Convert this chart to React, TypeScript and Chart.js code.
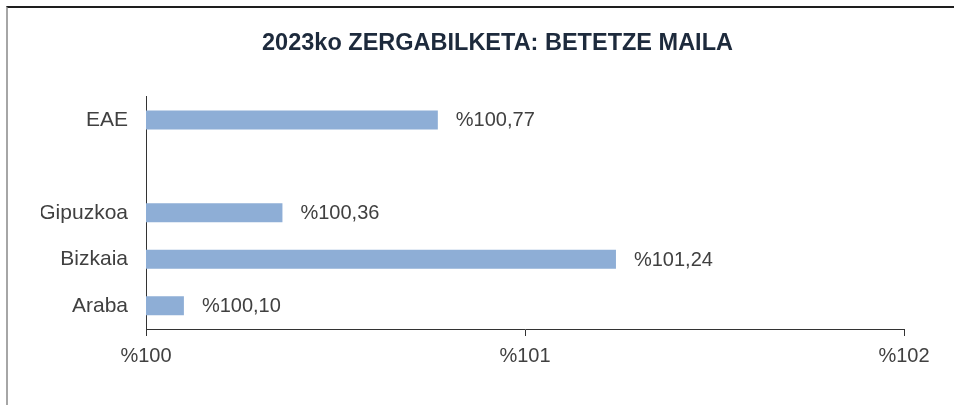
import React, { useEffect, useRef } from "react";
import { Chart, registerables } from "chart.js";

Chart.register(...registerables);

const TITLE = "2023ko ZERGABILKETA: BETETZE MAILA";
const categories = ["EAE", "", "Gipuzkoa", "Bizkaia", "Araba"];
const values: (number | null)[] = [100.77, null, 100.36, 101.24, 100.1];
const valueLabels = ["%100,77", "", "%100,36", "%101,24", "%100,10"];
const xTickValues = [100, 101, 102];
const xTickLabels = ["%100", "%101", "%102"];

const FONT = "'Liberation Sans', Arial, sans-serif";

const valueLabelPlugin = {
  id: "valueLabels",
  afterDatasetsDraw(chart: any) {
    const ctx = chart.ctx;
    const meta = chart.getDatasetMeta(0);
    ctx.save();
    ctx.font = `20px ${FONT}`;
    ctx.fillStyle = "#404040";
    ctx.textAlign = "left";
    ctx.textBaseline = "middle";
    meta.data.forEach((bar: any, i: number) => {
      if (values[i] == null) return;
      ctx.fillText(valueLabels[i], bar.x + 18, bar.y + 1);
    });
    ctx.restore();
  },
};

export default function App() {
  const ref = useRef<HTMLCanvasElement>(null);
  useEffect(() => {
    if (!ref.current) return;
    const chart = new Chart(ref.current, {
      type: "bar",
      data: {
        labels: categories,
        datasets: [
          {
            data: values,
            backgroundColor: "#8eaed6",
            borderWidth: 0,
            categoryPercentage: 1,
            barPercentage: 0.41,
          },
        ],
      },
      options: {
        indexAxis: "y",
        responsive: false,
        animation: false,
        layout: { padding: { left: 33, right: 0, top: 0, bottom: 0 } },
        plugins: {
          legend: { display: false },
          tooltip: { enabled: false },
          title: {
            display: true,
            text: TITLE,
            color: "#1d2a3c",
            font: { family: FONT, size: 23.5, weight: "bold" },
            padding: { top: 21.5, bottom: 39.0 },
          },
        },
        scales: {
          x: {
            type: "linear",
            min: 100,
            max: 102,
            afterBuildTicks: (scale: any) => {
              scale.ticks = xTickValues.map((v) => ({ value: v }));
            },
            afterFit: (scale: any) => {
              scale.height = 76;
              scale.paddingRight = 50;
            },
            ticks: {
              callback: (_v: any, i: number) => xTickLabels[i],
              color: "#404040",
              font: { family: FONT, size: 20 },
              padding: 8,
              maxRotation: 0,
            },
            grid: {
              display: true,
              drawOnChartArea: false,
              drawTicks: true,
              tickLength: 7,
              color: "#333333",
            },
            border: { display: true, color: "#333333", width: 1 },
          },
          y: {
            afterFit: (scale: any) => {
              scale.width = 105;
            },
            ticks: {
              color: "#404040",
              font: { family: FONT, size: 21 },
              padding: 18,
            },
            grid: { display: false, drawTicks: false },
            border: { display: true, color: "#333333", width: 1 },
          },
        },
      },
      plugins: [valueLabelPlugin],
    });
    return () => chart.destroy();
  }, []);

  return (
    <div
      style={{
        position: "absolute",
        left: 6,
        top: 6,
        width: 948,
        height: 399,
        boxSizing: "border-box",
        borderTop: "2px solid #1e1e1e",
        borderLeft: "2px solid #a6a6a6",
        background: "#ffffff",
      }}
    >
      <canvas ref={ref} width={946} height={397} style={{ display: "block" }} />
    </div>
  );
}
